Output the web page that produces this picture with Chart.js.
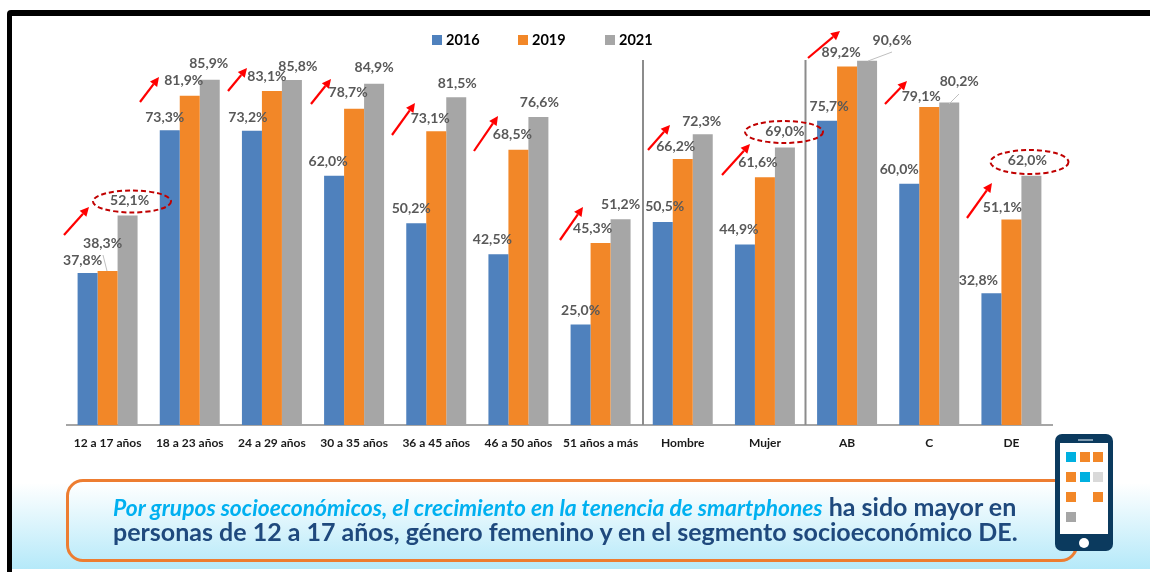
<!DOCTYPE html>
<html lang="es">
<head>
<meta charset="utf-8">
<title>Tenencia de smartphones</title>
<script src="https://cdn.jsdelivr.net/npm/chart.js@4"></script>
<style>
  html, body { margin: 0; padding: 0; background: #fff; }
  #lienzo { position: relative; width: 1150px; height: 572px; overflow: hidden; font-family: Lato, sans-serif; }
  #marco { position: absolute; left: 7px; top: 10px; width: 1160px; height: 580px; border: solid #000; border-width: 6px 5px; border-radius: 4px; box-sizing: border-box; }
  #degradado { position: absolute; left: 12px; right: 0; top: 483px; height: 86px; background: linear-gradient(#fff, #b5e9f9); }
  canvas { position: absolute; left: 0; top: 0; }
  #recuadro { position: absolute; left: 66px; top: 479px; width: 1012px; height: 83px; box-sizing: border-box; border: 3px solid #ed7d31; border-radius: 17px; }
  .linea { position: absolute; left: 113px; white-space: nowrap; font-weight: 700; font-size: 25px; line-height: 26px; color: #1f497d; }
  .linea i { color: #00b0f0; font-size: 22.8px; }
  .item-leyenda { position: absolute; top: 32px; font-weight: 700; font-size: 14.5px; line-height: 16px; color: #000; }
  .item-leyenda span { position: absolute; left: -14px; top: 3px; width: 10px; height: 10px; }
  #telefono { position: absolute; left: 1055px; top: 434px; width: 58px; height: 117px; background: #0b3a5e; border-radius: 7px; }
  #pantalla { position: absolute; left: 5px; top: 9px; width: 48px; height: 91px; background: #fff; }
  #parlante { position: absolute; left: 23px; top: 5px; width: 15px; height: 2px; background: #7f9bb0; }
  #boton { position: absolute; left: 24px; top: 104px; width: 10px; height: 10px; border-radius: 50%; background: #fff; }
  .icono { position: absolute; width: 10px; height: 10px; }
</style>
</head>
<body>
<div id="lienzo">
  <div id="marco"></div>
  <div id="degradado"></div>
  <canvas id="grafico1" width="1150" height="572"></canvas>
  <div id="leyenda"></div>
  <div id="recuadro"></div>
  <div class="linea" style="top:493px"><i>Por grupos socioeconómicos, el crecimiento en la tenencia de smartphones</i> ha sido mayor en</div>
  <div class="linea" style="top:518px">personas de 12 a 17 años, género femenino y en el segmento socioeconómico DE.</div>
  <div id="telefono">
    <div id="parlante"></div>
    <div id="pantalla"></div>
    <div id="boton"></div>
  </div>
</div>
<script>
const categorias = ["12 a 17 años", "18 a 23 años", "24 a 29 años", "30 a 35 años", "36 a 45 años", "46 a 50 años", "51 años a más", "Hombre", "Mujer", "AB", "C", "DE"];
const series = ["2016", "2019", "2021"];
const valores2016 = [37.8, 73.3, 73.2, 62.0, 50.2, 42.5, 25.0, 50.5, 44.9, 75.7, 60.0, 32.8];
const valores2019 = [38.3, 81.9, 83.1, 78.7, 73.1, 68.5, 45.3, 66.2, 61.6, 89.2, 79.1, 51.1];
const valores2021 = [52.1, 85.9, 85.8, 84.9, 81.5, 76.6, 51.2, 72.3, 69.0, 90.6, 80.2, 62.0];

const colores = ["#4f81bd", "#f28728", "#a6a6a6"];
const posicionLeyenda = [446, 532, 619];

// Desplazamiento de cada etiqueta respecto a la punta de su barra
const ajusteEtiquetas = [
  { dx: [-5, -5, -4, -6, -5, -6, 0, 2, -6, 2, -10, -13], dy: [-13, -13, -13, -14, -15, -15, -14, -16, -15, -14, -14, -13] },
  { dx: [-5, -6, -5, -6, -6, -6, -8, -7, -7, -6, -8, -9], dy: [-28, -15, -14, -16, -13, -15, -14, -12, -15, -14, -11, -12] },
  { dx: [2, -1, 6, 0, 1, 1, 0, -1, 0, 25, 10, -4], dy: [-15, -16, -14, -16, -14, -15, -15, -13, -16, -20, -21, -15] },
];

// Adornos dibujados sobre el gráfico: [x1, y1, x2, y2]
const flechas = [
  [64, 235, 89, 207], [140, 102, 159, 77], [228, 91, 247, 68], [311, 104, 331, 79],
  [392, 135, 415, 103], [474, 151, 498, 116], [560, 240, 583, 207], [648, 150, 670, 125],
  [722, 175, 750, 144], [808, 58, 840, 31], [885, 104, 907, 81], [967, 218, 992, 183],
];
const guias = [[103, 255, 107, 271], [892, 52, 868, 61], [959, 94, 949, 104]];
const divisores = [643, 805.5];
const elipses = [[132, 201.5, 39, 11], [784, 132, 39, 11], [1029.5, 162, 39, 12]];

// Iconos del teléfono, [columna, fila, color]
const iconos = [
  [0, 0, "#00b0e0"], [1, 0, "#f28728"], [2, 0, "#f28728"],
  [0, 1, "#f28728"], [1, 1, "#00b0e0"], [2, 1, "#d9d9d9"],
  [0, 2, "#f28728"], [2, 2, "#f28728"],
  [0, 3, "#a6a6a6"],
];
const pantalla = document.getElementById("pantalla");
iconos.forEach(([col, fila, color]) => {
  const div = document.createElement("div");
  div.className = "icono";
  div.style.left = 6 + col * 13.5 + "px";
  div.style.top = 9 + fila * 20 + "px";
  div.style.background = color;
  pantalla.appendChild(div);
});

// Leyenda en HTML, para poder ubicarla por encima del área del gráfico
const leyenda = document.getElementById("leyenda");
series.forEach((nombre, i) => {
  const item = document.createElement("div");
  item.className = "item-leyenda";
  item.style.left = posicionLeyenda[i] + "px";
  item.textContent = nombre;
  const cuadro = document.createElement("span");
  cuadro.style.background = colores[i];
  item.appendChild(cuadro);
  leyenda.appendChild(item);
});

function formatoPct(valor) {
  return valor.toFixed(1).replace(".", ",") + "%";
}

function dibujarFlecha(ctx, [x1, y1, x2, y2]) {
  const ang = Math.atan2(y2 - y1, x2 - x1);
  const base = 9;
  const bx = x2 - Math.cos(ang) * base;
  const by = y2 - Math.sin(ang) * base;
  ctx.strokeStyle = "#ff0000";
  ctx.fillStyle = "#ff0000";
  ctx.lineWidth = 2.2;
  ctx.beginPath();
  ctx.moveTo(x1, y1);
  ctx.lineTo(bx, by);
  ctx.stroke();
  ctx.beginPath();
  ctx.moveTo(x2, y2);
  ctx.lineTo(bx - Math.sin(ang) * 4.5, by + Math.cos(ang) * 4.5);
  ctx.lineTo(bx + Math.sin(ang) * 4.5, by - Math.cos(ang) * 4.5);
  ctx.closePath();
  ctx.fill();
}

const pluginAdornos = {
  id: "adornos",
  afterDatasetsDraw(chart) {
    const ctx = chart.ctx;
    const base = chart.chartArea.bottom;
    ctx.save();

    ctx.strokeStyle = "#8c8c8c";
    ctx.lineWidth = 2;
    divisores.forEach((x) => {
      ctx.beginPath();
      ctx.moveTo(x, 60);
      ctx.lineTo(x, base);
      ctx.stroke();
    });

    ctx.strokeStyle = "#bfbfbf";
    ctx.lineWidth = 1;
    guias.forEach(([x1, y1, x2, y2]) => {
      ctx.beginPath();
      ctx.moveTo(x1, y1);
      ctx.lineTo(x2, y2);
      ctx.stroke();
    });

    // Etiquetas de valor
    ctx.font = "bold 14px Lato";
    ctx.fillStyle = "#595959";
    ctx.textAlign = "center";
    ctx.textBaseline = "middle";
    chart.data.datasets.forEach((dataset, i) => {
      chart.getDatasetMeta(i).data.forEach((barra, j) => {
        const x = barra.x + ajusteEtiquetas[i].dx[j];
        const y = barra.y + ajusteEtiquetas[i].dy[j];
        ctx.fillText(formatoPct(dataset.data[j]), x, y);
      });
    });

    flechas.forEach((f) => dibujarFlecha(ctx, f));

    ctx.strokeStyle = "#c00000";
    ctx.lineWidth = 2;
    ctx.setLineDash([5, 3]);
    elipses.forEach(([cx, cy, rx, ry]) => {
      ctx.beginPath();
      ctx.ellipse(cx, cy, rx, ry, 0, 0, Math.PI * 2);
      ctx.stroke();
    });
    ctx.restore();
  },
};

function crearGrafico(canvas) {
  const ctx = document.getElementById(canvas).getContext("2d");
  const valores = [valores2016, valores2019, valores2021];
  new Chart(ctx, {
    type: "bar",
    data: {
      labels: categorias,
      datasets: series.map((nombre, i) => ({
        label: nombre,
        data: valores[i],
        backgroundColor: colores[i],
        categoryPercentage: 0.73,
        barPercentage: 1,
      })),
    },
    options: {
      responsive: false,
      animation: false,
      layout: { padding: { top: 23, left: 66.5, right: 97.5, bottom: 107 } },
      scales: {
        x: {
          grid: { display: false },
          border: { color: "#a6a6a6", width: 2 },
          ticks: {
            autoSkip: false,
            maxRotation: 0,
            padding: 3,
            color: "#1a1a1a",
            font: { family: "Lato", weight: "bold", size: 12 },
          },
          afterFit: (escala) => { escala.height = 40; },
        },
        y: {
          display: false,
          min: 0,
          max: 100,
        },
      },
      plugins: {
        legend: { display: false }, // La leyenda va en HTML
        tooltip: { enabled: false },
      },
    },
    plugins: [pluginAdornos],
  });
}

crearGrafico("grafico1");
</script>
</body>
</html>
